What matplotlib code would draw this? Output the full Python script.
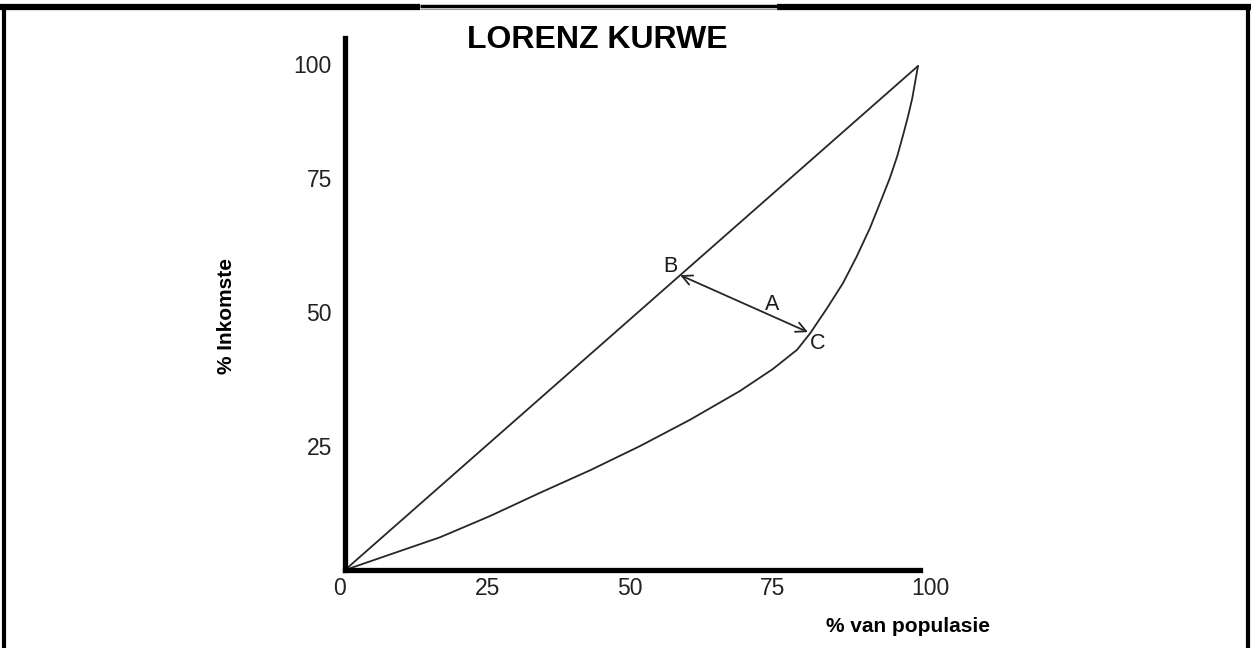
import matplotlib
matplotlib.use("Agg")
import matplotlib.pyplot as plt
from matplotlib.lines import Line2D

plt.rcParams['font.family'] = ['Liberation Sans', 'DejaVu Sans']

# ---- data ----
pop_pct = [0, 16.6, 25.3, 34.0, 42.8, 51.5, 60.2, 68.9, 74.7, 78.9, 81.2, 84.1,
           86.9, 89.3, 91.6, 93.4, 95.1, 96.4, 97.4, 98.3, 99.0, 99.5, 100]
inc_pct = [0, 6.5, 10.7, 15.3, 19.8, 24.6, 29.8, 35.5, 39.9, 43.7, 47.0, 51.9,
           56.9, 62.2, 67.8, 72.9, 77.8, 82.2, 86.3, 90.2, 93.6, 96.8, 100]
equality_x = [0, 100]
equality_y = [0, 100]

point_B = (58.5, 58.5)
point_C = (80.8, 47.2)
point_labels = ["B", "A", "C"]
label_pos = [(56.7, 60.3), (74.5, 52.6), (82.5, 45.0)]

xtick_labels = ["0", "25", "50", "75", "100"]
xtick_pos = [-0.9, 24.8, 49.7, 74.7, 102.1]
ytick_labels = ["25", "50", "75", "100"]
ytick_pos = [24.2, 50.6, 77.2, 100.0]

title = "LORENZ KURWE"
xlabel = "% van populasie"
ylabel = "% Inkomste"

W, H = 1251, 648
fig = plt.figure(figsize=(W / 100, H / 100), dpi=100)

# axes placement: origin at px (345,570), x=100 at px 918, y=100 at px 66
x0, y0 = 345, 570
px_per_x = (918 - 345) / 100
px_per_y = (570 - 66) / 100
xmax, ymax = 100.3, 105.6
ax = fig.add_axes([x0 / W, (H - y0) / H, xmax * px_per_x / W, ymax * px_per_y / H])
ax.set_xlim(0, xmax)
ax.set_ylim(0, ymax)
for s in ["top", "right"]:
    ax.spines[s].set_visible(False)
for s in ["left", "bottom"]:
    ax.spines[s].set_linewidth(3.8)
    ax.spines[s].set_color("black")
ax.set_xticks([])
ax.set_yticks([])

line_kw = dict(color="#262626", lw=1.3, solid_capstyle="round", solid_joinstyle="round")
ax.plot(equality_x, equality_y, **line_kw)
ax.plot(pop_pct, inc_pct, **line_kw)

ax.annotate("", xy=point_C, xytext=point_B,
            arrowprops=dict(arrowstyle="<->", color="#262626", lw=1.3,
                            mutation_scale=18, shrinkA=0, shrinkB=0))
for t, (lx, ly) in zip(point_labels, label_pos):
    ax.text(lx, ly, t, fontsize=15.5, ha="center", va="center", color="#1a1a1a")

for t, p in zip(xtick_labels, xtick_pos):
    ax.text(p, -3.6, t, fontsize=16.5, ha="center", va="center", color="#222222", clip_on=False)
for t, p in zip(ytick_labels, ytick_pos):
    ax.text(-2.3, p, t, fontsize=16.5, ha="right", va="center", color="#222222", clip_on=False)

fig.text(597 / W, 1 - 40 / H, title, fontsize=23, fontweight="bold", ha="center", va="center")
fig.text(908 / W, 1 - 627 / H, xlabel, fontsize=15, fontweight="bold", ha="center", va="center")
fig.text(226 / W, 1 - 316 / H, ylabel, fontsize=15, fontweight="bold", ha="center", va="center",
         rotation=90)

# page border (top, left, right)
def fline(xs, ys, lw, color="black"):
    fig.add_artist(Line2D([x / W for x in xs], [1 - y / H for y in ys], lw=lw, color=color,
                          solid_capstyle="butt"))

fline([0, 420], [7, 7], 4.5)
fline([777, W], [7, 7], 4.5)
fline([420, 777], [6, 6], 2.5)
fline([420, 777], [9, 9], 0.8, "#999999")
fline([3.5, 3.5], [5, H], 3)
fline([1247.5, 1247.5], [5, H], 3)

fig.savefig("out.png", dpi=100)
